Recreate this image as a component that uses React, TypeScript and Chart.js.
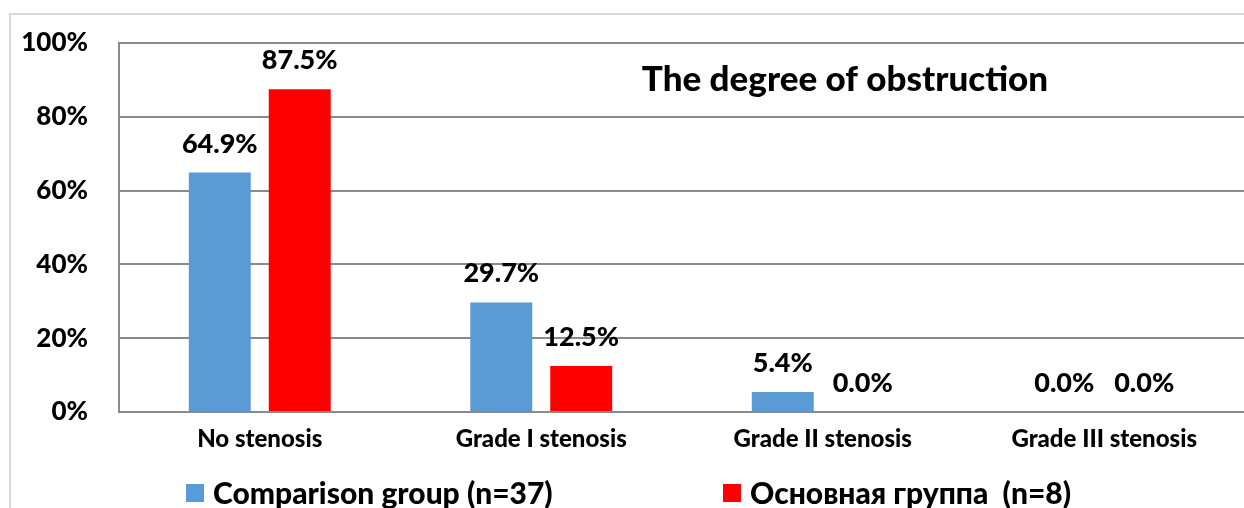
import React, { useEffect, useRef } from "react";
import { Chart, registerables } from "chart.js";

Chart.register(...registerables);

const categories = ["No stenosis", "Grade I stenosis", "Grade II stenosis", "Grade III stenosis"];
const comparisonValues = [64.9, 29.7, 5.4, 0.0];
const mainValues = [87.5, 12.5, 0.0, 0.0];
const seriesLabels = ["Comparison group (n=37)", "Основная группа  (n=8)"];
const seriesColors = ["#5B9BD5", "#FF0000"];
const titleText = "The degree of obstruction";

const FONT = "Lato, 'Open Sans', sans-serif";
const WEIGHT = "900";

const W = 1260;
const H = 530;

const labelPlugin = {
  id: "valueLabels",
  afterDatasetsDraw(chart: any) {
    const ctx = chart.ctx;
    ctx.save();
    ctx.fillStyle = "#000";
    ctx.font = `${WEIGHT} 27px ${FONT}`;
    ctx.textAlign = "center";
    ctx.textBaseline = "alphabetic";
    chart.data.datasets.forEach((ds: any, di: number) => {
      const meta = chart.getDatasetMeta(di);
      meta.data.forEach((bar: any, i: number) => {
        const v = ds.data[i] as number;
        ctx.fillText(v.toFixed(1) + "%", bar.x, bar.y - 20);
      });
    });
    ctx.restore();
  },
};

const decorPlugin = {
  id: "decor",
  afterDraw(chart: any) {
    const ctx = chart.ctx;
    const a = chart.chartArea;
    ctx.save();
    ctx.fillStyle = "#000";
    ctx.font = `${WEIGHT} 35px ${FONT}`;
    ctx.textAlign = "center";
    ctx.textBaseline = "alphabetic";
    ctx.fillText(titleText, a.left + 726, a.top + 48);
    ctx.font = `${WEIGHT} 30px ${FONT}`;
    ctx.textAlign = "left";
    ctx.textBaseline = "middle";
    const legendY = a.bottom + 81;
    const xs = [186, 723];
    seriesLabels.forEach((lab, i) => {
      ctx.fillStyle = seriesColors[i];
      ctx.fillRect(xs[i], legendY - 9, 18, 18);
      ctx.fillStyle = "#000";
      ctx.fillText(lab, xs[i] + 27, legendY + 1);
    });
    ctx.restore();
  },
};

export default function App() {
  const ref = useRef<HTMLCanvasElement | null>(null);
  useEffect(() => {
    if (!ref.current) return;
    const chart = new Chart(ref.current, {
      type: "bar",
      data: {
        labels: categories,
        datasets: [
          { label: seriesLabels[0], data: comparisonValues, backgroundColor: seriesColors[0], categoryPercentage: 0.568, barPercentage: 0.775 },
          { label: seriesLabels[1], data: mainValues, backgroundColor: seriesColors[1], categoryPercentage: 0.568, barPercentage: 0.775 },
        ],
      },
      options: {
        responsive: false,
        animation: false,
        devicePixelRatio: 1,
        layout: { padding: { top: 43, left: 0, right: 15, bottom: 0 } },
        plugins: { legend: { display: false }, tooltip: { enabled: false }, title: { display: false } },
        scales: {
          x: {
            grid: { display: false, drawTicks: false },
            border: { display: true, color: "#8a8a8a", width: 2 },
            ticks: { color: "#000", font: { family: FONT, weight: WEIGHT, size: 24 }, padding: 13, maxRotation: 0 },
            afterFit: (s: any) => { s.height = 118; },
          },
          y: {
            min: 0,
            max: 100,
            grid: { color: "#8a8a8a", lineWidth: 2, drawTicks: false },
            border: { display: true, color: "#8a8a8a", width: 2 },
            ticks: {
              stepSize: 20,
              color: "#000",
              padding: 31,
              font: { family: FONT, weight: WEIGHT, size: 26 },
              callback: (v: any) => v + "%",
            },
            afterFit: (s: any) => { s.width = 119; s.paddingTop = 0; s.paddingBottom = 0; },
          },
        },
      },
      plugins: [labelPlugin, decorPlugin],
    });
    return () => chart.destroy();
  }, []);
  return (
    <div style={{ position: "fixed", left: 0, top: 0, width: 1244, height: 508, overflow: "hidden", background: "#fff" }}>
      <canvas ref={ref} width={W} height={H} style={{ position: "absolute", left: 0, top: 0, width: W, height: H }} />
      <div style={{ position: "absolute", left: 9, top: 13, width: 1300, height: 600, borderLeft: "2px solid #d9d9d9", borderTop: "2px solid #d9d9d9", pointerEvents: "none" }} />
    </div>
  );
}
